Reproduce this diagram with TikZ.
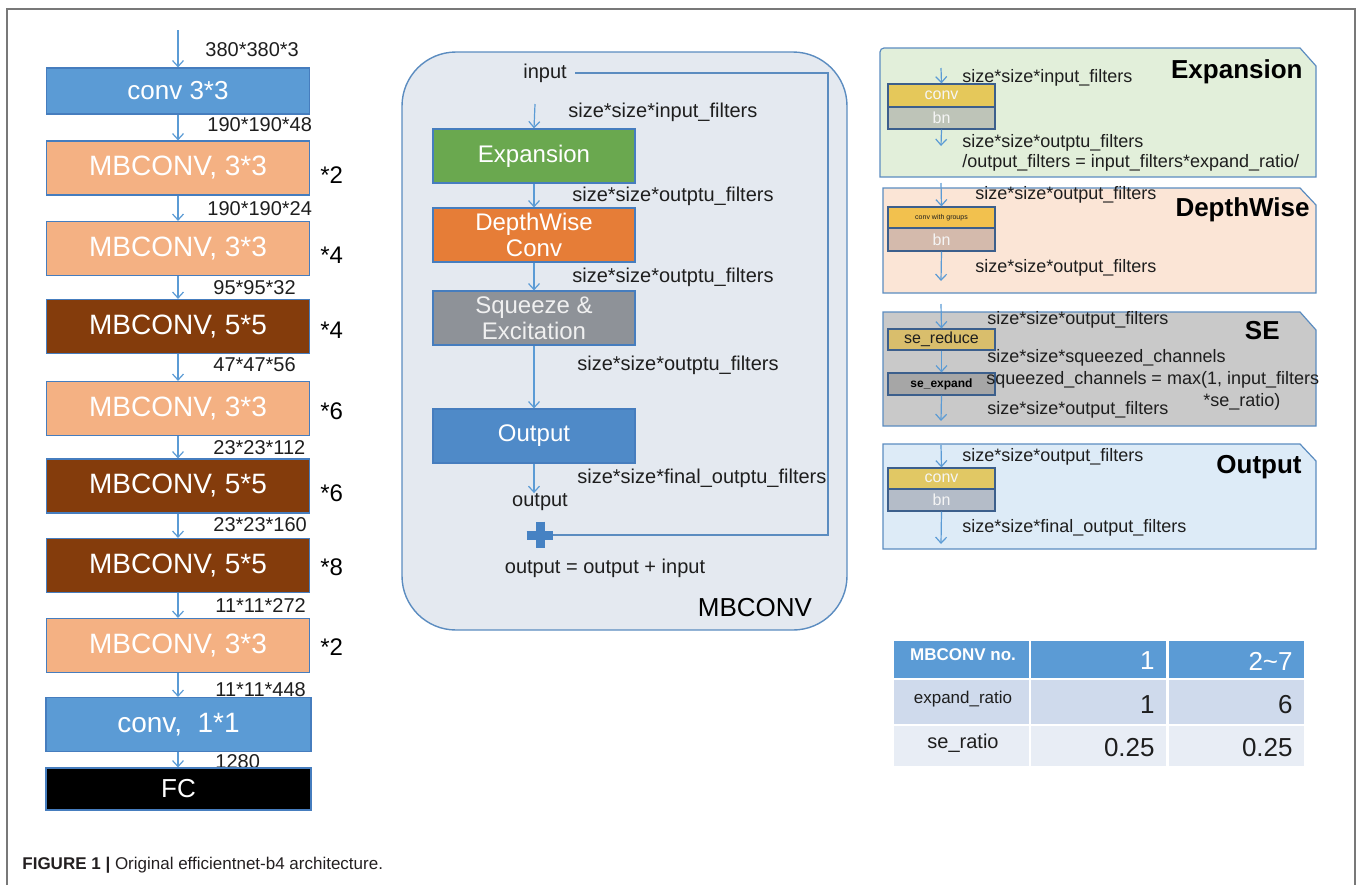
\documentclass[tikz,border=0pt]{standalone}
\usepackage{fontspec}
\setmainfont{Liberation Sans}
\usetikzlibrary{arrows.meta}
\definecolor{frameg}{RGB}{120,120,120}
\definecolor{arrblue}{RGB}{91,155,213}
\definecolor{bordblue}{RGB}{70,125,190}
\definecolor{convblue}{RGB}{91,155,213}
\definecolor{mblight}{RGB}{244,177,131}
\definecolor{mbdark}{RGB}{132,60,12}
\definecolor{txtdark}{RGB}{30,30,30}
\definecolor{panelfill}{RGB}{228,233,240}
\definecolor{panelline}{RGB}{91,140,192}
\definecolor{expgreen}{RGB}{106,168,79}
\definecolor{dworange}{RGB}{230,125,55}
\definecolor{segray}{RGB}{142,146,152}
\definecolor{outblue}{RGB}{79,138,200}
\definecolor{plusblue}{RGB}{70,130,195}
\definecolor{expfill}{RGB}{226,239,218}
\definecolor{dwfill}{RGB}{251,229,214}
\definecolor{sefill}{RGB}{201,201,201}
\definecolor{outfill}{RGB}{221,235,247}
\definecolor{blkline}{RGB}{60,95,140}
\definecolor{yconv}{RGB}{229,200,90}
\definecolor{ybn}{RGB}{190,196,184}
\definecolor{ogconv}{RGB}{242,193,78}
\definecolor{ogbn}{RGB}{212,186,172}
\definecolor{sered}{RGB}{217,190,108}
\definecolor{seexp}{RGB}{166,166,166}
\definecolor{oconv}{RGB}{225,200,100}
\definecolor{obn}{RGB}{180,188,200}
\definecolor{thead}{RGB}{91,155,213}
\definecolor{trow2}{RGB}{207,218,236}
\definecolor{trow3}{RGB}{232,237,245}
\definecolor{captxt}{RGB}{35,31,32}
\begin{document}
\begin{tikzpicture}[x=0.5pt,y=-0.5pt,
  frame/.style={draw=frameg, line width=1pt},
  arr/.style={draw=arrblue, line width=0.6pt, -{Straight Barb[length=3pt,width=5.5pt]}},
  lbox/.style={draw=bordblue, line width=0.6pt, minimum width=131.5pt, minimum height=27pt, inner sep=0pt, text=white, font=\fontsize{14}{16}\selectfont},
  dimlbl/.style={anchor=west, inner sep=0pt, text=txtdark, font=\fontsize{10}{12}\selectfont},
  mult/.style={anchor=west, inner sep=0pt, text=black, font=\fontsize{12}{14}\selectfont},
  mbox/.style={draw=bordblue, line width=0.6pt, minimum width=101pt, minimum height=27pt, inner sep=0pt, text=white, align=center, font=\fontsize{12}{14}\selectfont},
  mlbl/.style={anchor=west, inner sep=0pt, text=txtdark, font=\fontsize{10}{12}\selectfont},
  rlbl/.style={anchor=west, inner sep=0pt, text=txtdark, font=\fontsize{9}{11}\selectfont},
  rtitle/.style={anchor=east, inner sep=0pt, text=black, font=\bfseries\fontsize{13}{15}\selectfont},
  rpanel/.style={draw=panelline, line width=0.6pt},
  blk/.style={draw=blkline, line width=0.6pt, minimum width=53.5pt, inner sep=0pt, text=white!92!gray},
  cell/.style={draw=white, line width=1pt, minimum width=68.5pt, inner sep=0pt},
  ttxt/.style={inner sep=0pt, font=\fontsize{13}{15}\selectfont}
]
\useasboundingbox (0,0) rectangle (1360,885);
% frame
\draw[frame] (7,885) -- (7,9) -- (1355,9) -- (1355,885);

% ---------------- left column ----------------
\coordinate (ltop) at (178,30);
\node[dimlbl] (d0) at (205,50) {380*380*3};
\node[lbox, fill=convblue, minimum height=23pt, font=\fontsize{13}{15}\selectfont] (c1) at (178,91) {conv 3*3};
\node[dimlbl] (d1) at (207,125) {190*190*48};
\node[lbox, fill=mblight] (m1) at (178,168) {MBCONV, 3*3};
\node[dimlbl] (d2) at (207,209) {190*190*24};
\node[lbox, fill=mblight] (m2) at (178,248.5) {MBCONV, 3*3};
\node[dimlbl] (d3) at (213,288) {95*95*32};
\node[lbox, fill=mbdark] (m3) at (178,326.5) {MBCONV, 5*5};
\node[dimlbl] (d4) at (213,365) {47*47*56};
\node[lbox, fill=mblight] (m4) at (178,408.5) {MBCONV, 3*3};
\node[dimlbl] (d5) at (213,448) {23*23*112};
\node[lbox, fill=mbdark] (m5) at (178,486) {MBCONV, 5*5};
\node[dimlbl] (d6) at (213,525) {23*23*160};
\node[lbox, fill=mbdark] (m6) at (178,565.5) {MBCONV, 5*5};
\node[dimlbl] (d7) at (215,606) {11*11*272};
\node[lbox, fill=mblight] (m7) at (178,645.5) {MBCONV, 3*3};
\node[dimlbl] (d8) at (215,690) {11*11*448};
\node[lbox, fill=convblue, minimum width=132.5pt] (c2) at (178.5,724.5) {conv,\ \ 1*1};
\node[dimlbl] (d9) at (215,762) {1280};
\node[lbox, fill=black, minimum width=132.5pt, minimum height=21pt, font=\fontsize{13}{15}\selectfont] (fc) at (178.5,789) {FC};

\draw[arr] (ltop) -- (c1.north);
\draw[arr] (c1.south) -- (m1.north);
\draw[arr] (m1.south) -- (m2.north);
\draw[arr] (m2.south) -- (m3.north);
\draw[arr] (m3.south) -- (m4.north);
\draw[arr] (m4.south) -- (m5.north);
\draw[arr] (m5.south) -- (m6.north);
\draw[arr] (m6.south) -- (m7.north);
\draw[arr] (m7.south) -- (m7.south |- c2.north);
\draw[arr] (c2.south -| m7.south) -- (fc.north -| m7.south);

\node[mult] (x1) at (320,175) {*2};
\node[mult] (x2) at (320,255) {*4};
\node[mult] (x3) at (320,330) {*4};
\node[mult] (x4) at (320,411) {*6};
\node[mult] (x5) at (320,493) {*6};
\node[mult] (x6) at (320,567) {*8};
\node[mult] (x7) at (320,647) {*2};

% caption
\node[anchor=west, inner sep=0pt, text=captxt, font=\fontsize{8.5}{10}\selectfont] (cap) at (22,865) {\textbf{FIGURE 1 |} Original efficientnet-b4 architecture.};

% ---------------- middle MBCONV panel ----------------
\draw[draw=panelline, fill=panelfill, line width=0.7pt, rounded corners=27pt] (402,52) rectangle (847,630);
\node[mlbl, anchor=center] (inp) at (545,73) {input};
\coordinate (a0) at (535,104);
\node[mlbl] (l1) at (568,112) {size*size*input\_filters};
\node[mbox, fill=expgreen] (exp) at (534,156) {Expansion};
\node[mlbl] (l2) at (572,196) {size*size*outptu\_filters};
\node[mbox, fill=dworange] (dw) at (534,235) {DepthWise\\[-1pt]Conv};
\node[mlbl] (l3) at (572,277) {size*size*outptu\_filters};
\node[mbox, fill=segray, text=white!88!gray] (sq) at (534,318) {Squeeze \&\\[-1pt]Excitation};
\node[mlbl] (l4) at (577,365) {size*size*outptu\_filters};
\node[mbox, fill=outblue] (out) at (534,436) {Output};
\node[mlbl] (l5) at (577,478) {size*size*final\_outptu\_filters};
\node[mlbl, anchor=center] (otx) at (540,502) {output};
\node[minimum size=13pt, inner sep=0pt] (plus) at (540,535) {};
\draw[plusblue, line width=4.5pt] (plus.north) -- (plus.south) (plus.west) -- (plus.east);
\node[mlbl, anchor=center] (eq) at (605,568) {output = output + input};
\node[inner sep=0pt, text=black, font=\fontsize{13}{15}\selectfont] (mbc) at (755,608) {MBCONV};

\draw[arr] (a0) -- (exp.north);
\draw[arr] (exp.south) -- (dw.north);
\draw[arr] (dw.south) -- (sq.north);
\draw[arr] (sq.south) -- (out.north);
\draw[arr] (out.south) -- (out.south |- otx.north);
\coordinate (skc) at (828,300);
\draw[draw=panelline, line width=0.7pt] (inp.east) ++(8,0) -| (skc) |- (plus.east);

% ---------------- right panels ----------------
% Expansion
\filldraw[rpanel, fill=expfill] (880,177) -- (880,52) [rounded corners=2pt] -- (880,48) [sharp corners] -- (1300,48) -- (1316,66) -- (1316,177) -- cycle;
\node[blk, fill=yconv, minimum height=11.5pt, font=\fontsize{8}{9}\selectfont] (ec) at (941.5,95.5) {conv};
\node[blk, fill=ybn, minimum height=11pt, font=\fontsize{8}{9}\selectfont] (eb) at (941.5,118) {bn};
\coordinate (ea0) at (941,68);
\coordinate (ea1) at (941,146);
\draw[arr] (ea0) -- (ec.north);
\draw[arr] (eb.south) -- (ea1);
\node[rlbl] (el1) at (962,78) {size*size*input\_filters};
\node[rlbl] (el2) at (962,143) {size*size*outptu\_filters};
\node[rlbl] (el3) at (962,163) {/output\_filters = input\_filters*expand\_ratio/};
\node[rtitle] (et) at (1303,72) {Expansion};

% DepthWise
\filldraw[rpanel, fill=dwfill] (883,293) -- (883,188) -- (1300,188) -- (1316,205) -- (1316,293) -- cycle;
\node[blk, fill=ogconv, minimum height=10.5pt, text=txtdark, font=\fontsize{3.5}{4}\selectfont] (dc) at (941.5,217.5) {conv with groups};
\node[blk, fill=ogbn, minimum height=11.5pt, font=\fontsize{8}{9}\selectfont] (db) at (941.5,239.5) {bn};
\coordinate (da0) at (941,183);
\coordinate (da1) at (941,281);
\draw[arr] (da0) -- (dc.north);
\draw[arr] (db.south) -- (da1);
\node[rlbl] (dl1) at (975,195) {size*size*output\_filters};
\node[rlbl] (dl2) at (975,268) {size*size*output\_filters};
\node[rtitle] (dt) at (1310,210) {DepthWise};

% SE
\filldraw[rpanel, fill=sefill] (883,426) -- (883,312) -- (1300,312) -- (1316,330) -- (1316,426) -- cycle;
\node[blk, fill=sered, minimum height=10.5pt, text=txtdark, font=\fontsize{8}{9}\selectfont] (sr) at (941.5,339.5) {se\_reduce};
\node[blk, fill=seexp, minimum height=11pt, text=black, font=\bfseries\fontsize{6}{7}\selectfont] (sx) at (941.5,384) {se\_expand};
\coordinate (sa0) at (941,304);
\coordinate (sa1) at (941,421);
\draw[arr] (sa0) -- (sr.north);
\draw[arr] (sr.south) -- (sx.north);
\draw[arr] (sx.south) -- (sa1);
\node[rlbl] (sl1) at (987,320) {size*size*output\_filters};
\node[rlbl] (sl2) at (987,358) {size*size*squeezed\_channels};
\node[rlbl] (sl3) at (986,380) {squeezed\_channels = max(1, input\_filters};
\node[rlbl] (sl4) at (1203,402) {*se\_ratio)};
\node[rlbl] (sl5) at (987,410) {size*size*output\_filters};
\node[rtitle] (st) at (1280,331) {SE};

% Output
\filldraw[rpanel, fill=outfill] (883,549) -- (883,444) -- (1300,444) -- (1316,461) -- (1316,549) -- cycle;
\node[blk, fill=oconv, minimum height=10.5pt, font=\fontsize{8}{9}\selectfont] (oc) at (941.5,478.5) {conv};
\node[blk, fill=obn, minimum height=11pt, font=\fontsize{8}{9}\selectfont] (ob) at (941.5,500) {bn};
\coordinate (oa0) at (941,445);
\coordinate (oa1) at (941,544);
\draw[arr] (oa0) -- (oc.north);
\draw[arr] (ob.south) -- (oa1);
\node[rlbl] (ol1) at (962,457) {size*size*output\_filters};
\node[rlbl] (ol2) at (962,528) {size*size*final\_output\_filters};
\node[rtitle] (ot) at (1302,467) {Output};

% ---------------- table ----------------
\node[cell, fill=thead, minimum height=19.5pt] (t11) at (961.5,659.5) {};
\node[cell, fill=thead, minimum height=19.5pt] (t12) at (1098.5,659.5) {};
\node[cell, fill=thead, minimum height=19.5pt] (t13) at (1236,659.5) {};
\node[cell, fill=trow2, minimum height=23pt] (t21) at (961.5,702) {};
\node[cell, fill=trow2, minimum height=23pt] (t22) at (1098.5,702) {};
\node[cell, fill=trow2, minimum height=23pt] (t23) at (1236,702) {};
\node[cell, fill=trow3, minimum height=21pt] (t31) at (961.5,746) {};
\node[cell, fill=trow3, minimum height=21pt] (t32) at (1098.5,746) {};
\node[cell, fill=trow3, minimum height=21pt] (t33) at (1236,746) {};

\node[inner sep=0pt, text=white, font=\bfseries\fontsize{8.5}{10}\selectfont] (h1) at (963,655) {MBCONV no.};
\node[ttxt, anchor=east, text=white] (h2) at (1155,661) {1};
\node[ttxt, anchor=east, text=white] (h3) at (1293,661) {2\char"007E 7};
\node[inner sep=0pt, text=txtdark, font=\fontsize{8.5}{10}\selectfont] (r21) at (963,699) {expand\_ratio};
\node[ttxt, anchor=east, text=txtdark] (r22) at (1155,705) {1};
\node[ttxt, anchor=east, text=txtdark] (r23) at (1293,705) {6};
\node[inner sep=0pt, text=txtdark, font=\fontsize{10}{12}\selectfont] (r31) at (963,743) {se\_ratio};
\node[ttxt, anchor=east, text=txtdark] (r32) at (1155,748) {0.25};
\node[ttxt, anchor=east, text=txtdark] (r33) at (1293,748) {0.25};
\end{tikzpicture}
\end{document}
